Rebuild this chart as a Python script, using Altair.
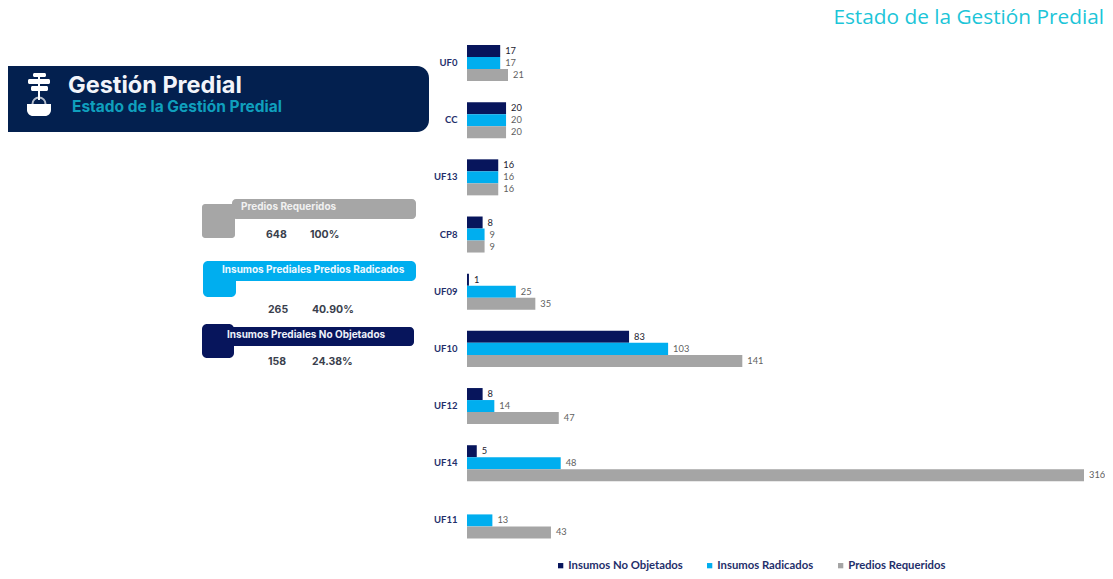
import altair as alt
import pandas as pd

categories = ["UF0", "CC", "UF13", "CP8", "UF09", "UF10", "UF12", "UF14", "UF11"]
series = ["Insumos No Objetados", "Insumos Radicados", "Predios Requeridos"]
no_objetados = [17, 20, 16, 8, 1, 83, 8, 5, None]
radicados = [17, 20, 16, 9, 25, 103, 14, 48, 13]
requeridos = [21, 20, 16, 9, 35, 141, 47, 316, 43]
colors = ["#07155c", "#00aeef", "#a5a5a5"]

NAVY = "#03204f"
INK = "#3a3f4d"
OX, OY = 8, 8  # page margin

rows = []
for s, vals in zip(series, [no_objetados, radicados, requeridos]):
    for c, v in zip(categories, vals):
        if v is not None:
            rows.append({"cat": c, "series": s, "value": v})
df = pd.DataFrame(rows)

blank = alt.Data(values=[{}])


def box(x0, x1, y0, y1, color, **corners):
    return alt.Chart(blank).mark_rect(color=color, **corners).encode(
        x=alt.value(x0 - OX), x2=alt.value(x1 - OX),
        y=alt.value(y0 - OY), y2=alt.value(y1 - OY),
    )


def label(text, x, y, size, color, align="left", weight="bold", font="Inter"):
    return alt.Chart(blank).mark_text(
        text=text, fontSize=size, color=color, align=align, baseline="middle",
        fontWeight=weight, font=font,
    ).encode(x=alt.value(x - OX), y=alt.value(y - OY))


y_enc = alt.Y(
    "cat:N", sort=categories, title=None,
    scale=alt.Scale(range=[26.4, 541], paddingInner=0.37, paddingOuter=0.185),
    axis=alt.Axis(domain=False, ticks=False, grid=False, labelPadding=0, offset=-449,
                  labelFont="Lato", labelFontSize=9.5, labelFontWeight="bold",
                  labelColor="#1f2f6b"),
)
x_enc = alt.X("value:Q", title=None, axis=None,
              scale=alt.Scale(domain=[0, 316], range=[459, 1076], nice=False, zero=True))
offset = alt.YOffset("series:N", sort=series)

bars = alt.Chart(df).mark_bar().encode(
    y=y_enc, x=x_enc, yOffset=offset,
    color=alt.Color(
        "series:N",
        scale=alt.Scale(domain=series, range=colors),
        legend=alt.Legend(
            orient="none", legendX=547, legendY=552, direction="horizontal", title=None,
            symbolType="square", symbolSize=28, columns=3, columnPadding=21,
            labelFont="Lato", labelFontSize=11.3, labelFontWeight="bold",
            labelColor="#1f2f6b", labelOffset=2,
        ),
    ),
)
texts = alt.Chart(df).mark_text(align="left", baseline="middle", dx=5, fontSize=9.3, font="Lato").encode(
    y=y_enc, x=x_enc, yOffset=offset, text="value:Q",
    color=alt.condition(alt.datum.series == series[0], alt.value("#1a1a2e"), alt.value("#5f5f5f")),
    opacity=alt.value(1),
)

decor = [
    # header
    box(7, 429, 66, 132, NAVY, cornerRadiusTopRight=12, cornerRadiusBottomRight=12),
    # plant icon
    box(33, 46, 73, 77, "white", cornerRadius=1.5),
    box(28, 50, 79, 84, "white", cornerRadius=1.5),
    box(31, 48, 86, 91, "white", cornerRadius=1.5),
    box(38, 40, 73, 100, "white"),
    alt.Chart(blank).mark_point(shape="circle", size=170, color="white", strokeWidth=2, filled=False).encode(
        x=alt.value(39 - OX), y=alt.value(104 - OY)),
    box(27, 51, 104, 116, "white", cornerRadiusBottomLeft=7, cornerRadiusBottomRight=7),
    label("Gestión Predial", 68, 86, 23.5, "#f2f4fa"),
    label("Estado de la Gestión Predial", 72, 107, 15.5, "#0f9fbd"),
    # requeridos card
    box(232, 416, 199, 219, "#a6a6a6", cornerRadius=4),
    box(202, 235, 204, 238, "#a6a6a6", cornerRadius=3),
    label("Predios Requeridos", 241, 207, 10, "#f1f1f1"),
    label("648", 266, 234.5, 10.5, INK),
    label("100%", 310, 234.5, 10.5, INK),
    # radicados card
    box(203, 416, 261, 281, "#00aeef", cornerRadius=5),
    box(203, 236, 270, 297, "#00aeef", cornerRadius=5),
    label("Insumos Prediales  Predios Radicados", 222, 270, 10, "#eef9ff"),
    label("265", 268, 309.5, 10.5, INK),
    label("40.90%", 312, 309.5, 10.5, INK),
    # no objetados card
    box(202, 414, 327, 346, "#07155c", cornerRadius=4),
    box(202, 234, 324, 358, "#07155c", cornerRadius=5),
    label("Insumos Prediales No Objetados", 227, 335, 10, "#eef1fa"),
    label("158", 268, 361.5, 10.5, INK),
    label("24.38%", 312, 361.5, 10.5, INK),
    # corner title
    label("Estado de la Gestión Predial", 1104, 18, 20.8, "#1cc5d8", align="right", weight="normal", font="Open Sans"),
]

chart = alt.layer(bars, texts, *decor).resolve_scale(color="independent").properties(
    width=1097, height=563, padding=0,
    autosize=alt.AutoSizeParams(type="none"),
).configure_view(stroke=None)

chart.save("out.html", embed_options={"renderer": "svg", "actions": False})
